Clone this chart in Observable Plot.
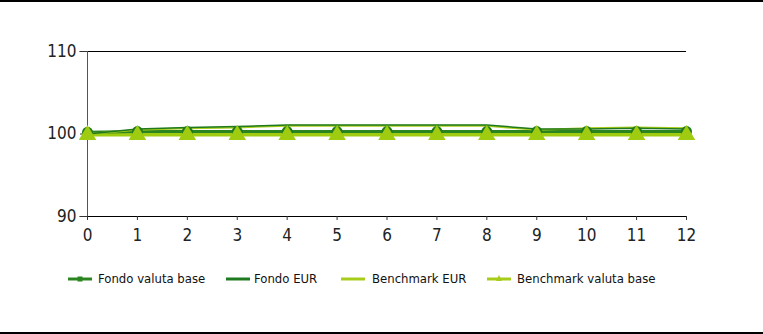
<!DOCTYPE html>
<html>
<head>
<meta charset="utf-8">
<script src="https://cdn.jsdelivr.net/npm/d3@7"></script>
<script src="https://cdn.jsdelivr.net/npm/@observablehq/plot@0.6"></script>
<style>
  html, body { margin: 0; padding: 0; background: #fff; }
  #page { position: relative; width: 763px; height: 334px; overflow: hidden; background: #fff; }
  #topline { position: absolute; left: 0; top: 0; width: 763px; height: 2px; background: #000; }
  #botline { position: absolute; left: 0; top: 332px; width: 763px; height: 2px; background: #000; }
  #chart { position: absolute; left: 0; top: 0; }
  #legend { position: absolute; left: 0; top: 270px; width: 763px; height: 18px;
    font-family: "DejaVu Sans Condensed", "Liberation Sans Narrow", sans-serif; font-size: 13px; color: #111; }
  #legend svg, #legend span { position: absolute; top: 0; line-height: 18px; }
</style>
</head>
<body>
<div id="page">
  <div id="topline"></div>
  <div id="chart"></div>
  <div id="legend"></div>
  <div id="botline"></div>
</div>
<script>
const months = [0,1,2,3,4,5,6,7,8,9,10,11,12];
const fondoValutaBase     = [100.2,100.3,100.3,100.3,100.3,100.3,100.3,100.3,100.3,100.3,100.3,100.3,100.3];
const fondoEUR            = [100.0,100.6,100.8,100.9,101.1,101.1,101.1,101.1,101.1,100.6,100.6,100.7,100.6];
const benchmarkEUR        = [100.0,100.5,100.7,100.8,101.0,101.0,101.0,101.0,101.0,100.5,100.7,100.8,100.7];
const benchmarkValutaBase = [100.0,100.0,100.0,100.0,100.0,100.0,100.0,100.0,100.0,100.0,100.0,100.0,100.0];
const yTicks = [90, 100, 110];
const seriesNames = ["Fondo valuta base", "Fondo EUR", "Benchmark EUR", "Benchmark valuta base"];

const darkGreen = "#1f7a1f";
const midGreen = "#2a8420";
const lightGreen = "#a8cc1a";
const yellowGreen = "#9fcb10";

const rows = (vals) => months.map((m, i) => ({x: m, y: vals[i]}));

const plot = Plot.plot({
  width: 763,
  height: 255,
  marginLeft: 87,
  marginRight: 77,
  marginTop: 51,
  marginBottom: 39,
  style: {fontFamily: "DejaVu Sans Condensed, Liberation Sans Narrow, sans-serif", fontSize: "17px", color: "#222", background: "transparent"},
  x: {domain: [0, 12], ticks: months, label: null},
  y: {domain: [90, 110], ticks: yTicks, label: null},
  marks: [
    Plot.ruleY([110], {stroke: "#000", strokeWidth: 1.2, x1: -0.15, x2: 12}),
    Plot.ruleX([0], {stroke: "#555", strokeWidth: 1}),
    Plot.ruleY([90], {stroke: "#000", strokeWidth: 1.2, x1: -0.15, x2: 12}),
    Plot.axisX({ticks: months, tickSize: 4, tickPadding: 8, stroke: "#333", fontSize: 17}),
    Plot.axisY({ticks: yTicks, tickSize: 7, tickPadding: 4, stroke: "#333", fontSize: 17}),
    Plot.line(rows(benchmarkValutaBase), {x: "x", y: "y", stroke: yellowGreen, strokeWidth: 5}),
    Plot.line(rows(fondoValutaBase), {x: "x", y: "y", stroke: midGreen, strokeWidth: 3}),
    Plot.line(rows(benchmarkEUR), {x: "x", y: "y", stroke: lightGreen, strokeWidth: 2}),
    Plot.line(rows(fondoEUR), {x: "x", y: "y", stroke: darkGreen, strokeWidth: 1.5}),
    Plot.dot(rows(fondoValutaBase), {x: "x", y: "y", r: 5.5, fill: darkGreen, stroke: "none"}),
    Plot.dot(rows(benchmarkValutaBase), {x: "x", y: "y", symbol: "triangle", r: 6.5, fill: yellowGreen, stroke: "none", dy: 1})
  ]
});
document.getElementById("chart").appendChild(plot);

// legend
const legendStyles = [
  {color: midGreen, marker: "circle", sx: 68, tx: 98},
  {color: darkGreen, marker: null, sx: 226, tx: 254},
  {color: lightGreen, marker: null, sx: 341, tx: 372},
  {color: lightGreen, marker: "triangle", sx: 487, tx: 517}
];
const legend = document.getElementById("legend");
seriesNames.forEach((name, i) => {
  const s = legendStyles[i];
  let mk = "";
  if (s.marker === "circle") mk = `<rect x="9.5" y="6.5" width="5" height="5" fill="${s.color}"/>`;
  if (s.marker === "triangle") mk = `<path d="M12,5 L15,11 L9,11 Z" fill="${s.color}"/>`;
  const sw = document.createElementNS("http://www.w3.org/2000/svg", "svg");
  sw.setAttribute("width", 24); sw.setAttribute("height", 18);
  sw.style.left = s.sx + "px";
  sw.innerHTML = `<line x1="0" x2="24" y1="9" y2="9" stroke="${s.color}" stroke-width="3"/>${mk}`;
  legend.appendChild(sw);
  const t = document.createElement("span");
  t.style.left = s.tx + "px";
  t.textContent = name;
  legend.appendChild(t);
});
</script>
</body>
</html>
